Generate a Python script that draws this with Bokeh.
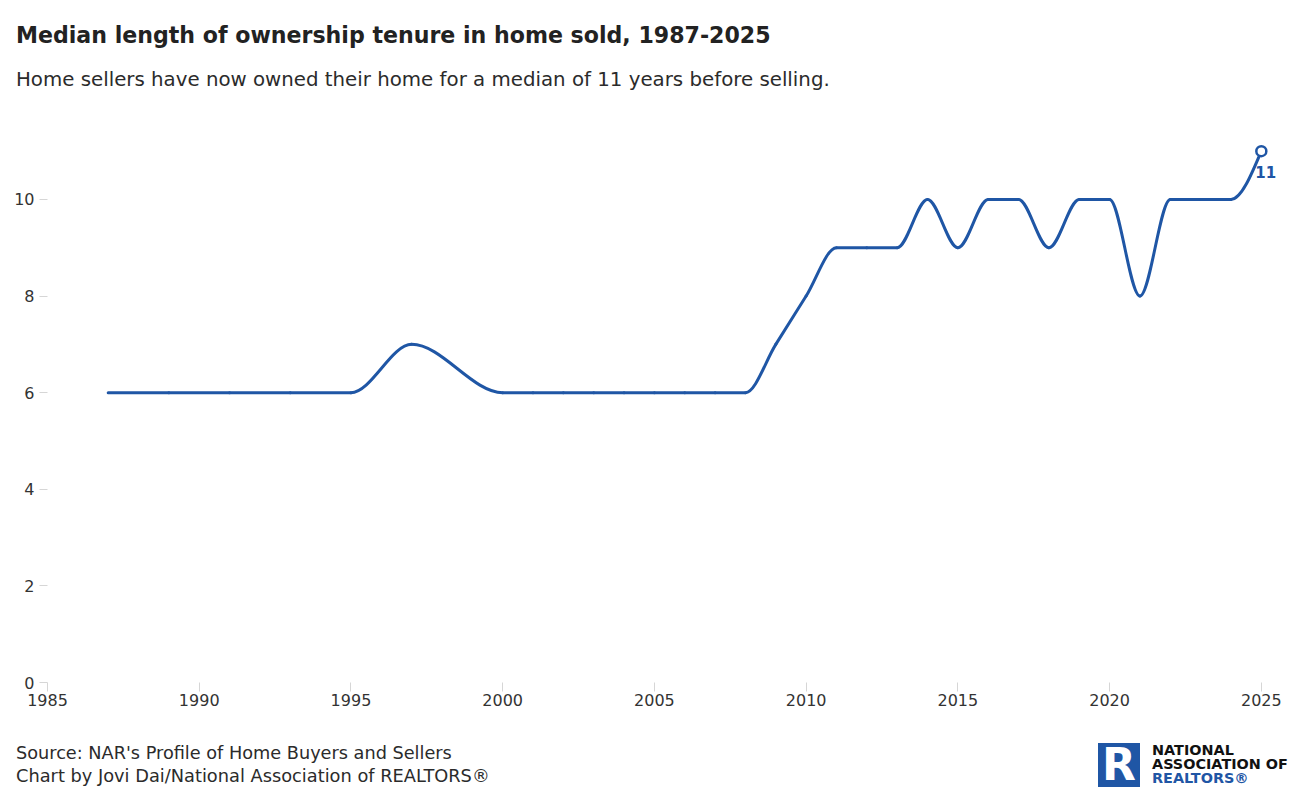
from bokeh.plotting import figure
from bokeh.layouts import column
from bokeh.models import Range1d, FixedTicker, Label, ColumnDataSource, Div
from bokeh.embed import file_html
from bokeh.resources import INLINE

# ---------------- data ----------------
years = [1987, 1989, 1991, 1993, 1995, 1997, 2000,
         2001, 2002, 2003, 2004, 2005, 2006, 2007, 2008,
         2009, 2010, 2011, 2012, 2013, 2014, 2015, 2016, 2017,
         2018, 2019, 2020, 2021, 2022, 2023, 2024, 2025]
tenure = [6, 6, 6, 6, 6, 7, 6,
          6, 6, 6, 6, 6, 6, 6, 6,
          7, 8, 9, 9, 9, 10, 9, 10, 10,
          9, 10, 10, 8, 10, 10, 10, 11]
x_ticks = [1985, 1990, 1995, 2000, 2005, 2010, 2015, 2020, 2025]
y_ticks = [0, 2, 4, 6, 8, 10]

TITLE = "Median length of ownership tenure in home sold, 1987-2025"
SUBTITLE = "Home sellers have now owned their home for a median of 11 years before selling."
SOURCE = "Source: NAR's Profile of Home Buyers and Sellers"
CREDIT = "Chart by Jovi Dai/National Association of REALTORS\u00ae"
LOGO_LINES = ["NATIONAL", "ASSOCIATION OF", "REALTORS\u00ae"]

FONT = "DejaVu Sans"
BLUE = "#1f56a5"
TEXT = "#2b2b2b"

# ---------------- geometry (page pixels) ----------------
X0, X1 = 1985, 2025.5
Y0, Y1 = 0, 11.51
FL, FR, FW, FH = 47, 16, 1229, 556
W = FL + FW + FR
HEAD_H, TOP_B, BOT_B, FOOT_H = 100, 26, 40, 68


# ---------------- monotone-x cubic (d3.curveMonotoneX) ----------------
def sign(v):
    return (v > 0) - (v < 0)


def tangents(xs, ys):
    n = len(xs)
    t = [0.0] * n
    for i in range(1, n - 1):
        h0 = xs[i] - xs[i - 1]
        h1 = xs[i + 1] - xs[i]
        s0 = (ys[i] - ys[i - 1]) / h0
        s1 = (ys[i + 1] - ys[i]) / h1
        p_ = (s0 * h1 + s1 * h0) / (h0 + h1)
        t[i] = (sign(s0) + sign(s1)) * min(abs(s0), abs(s1), 0.5 * abs(p_))
    h = xs[1] - xs[0]
    t[0] = (3 * (ys[1] - ys[0]) / h - t[1]) / 2
    h = xs[-1] - xs[-2]
    t[-1] = (3 * (ys[-1] - ys[-2]) / h - t[-2]) / 2
    return t


tg = tangents(years, tenure)
seg = dict(x0=[], y0=[], x1=[], y1=[], cx0=[], cy0=[], cx1=[], cy1=[])
for i in range(len(years) - 1):
    xa, ya, xb, yb = years[i], tenure[i], years[i + 1], tenure[i + 1]
    d = (xb - xa) / 3
    seg["x0"].append(xa); seg["y0"].append(ya)
    seg["x1"].append(xb); seg["y1"].append(yb)
    seg["cx0"].append(xa + d); seg["cy0"].append(ya + d * tg[i])
    seg["cx1"].append(xb - d); seg["cy1"].append(yb - d * tg[i + 1])
src = ColumnDataSource(seg)

# ---------------- chart ----------------
p = figure(frame_width=FW, frame_height=FH, x_range=Range1d(X0, X1),
           y_range=Range1d(Y0, Y1), output_backend="svg", toolbar_location=None,
           min_border_left=FL, min_border_right=FR, min_border_top=TOP_B,
           min_border_bottom=BOT_B, margin=0)
p.outline_line_color = None
p.grid.visible = False
p.xaxis.ticker = FixedTicker(ticks=x_ticks)
p.yaxis.ticker = FixedTicker(ticks=y_ticks)
for ax in (p.xaxis[0], p.yaxis[0]):
    ax.axis_line_color = None
    ax.major_tick_line_color = "#d6d6d6"
    ax.major_tick_line_width = 1
    ax.major_tick_in = 0
    ax.minor_tick_line_color = None
    ax.major_label_text_font = FONT
    ax.major_label_text_font_size = "16px"
    ax.major_label_text_color = "#333333"
p.xaxis.major_tick_out = 9
p.yaxis.major_tick_out = 8
p.xaxis.major_label_standoff = 2
p.yaxis.major_label_standoff = 5

p.bezier(x0="x0", y0="y0", x1="x1", y1="y1", cx0="cx0", cy0="cy0", cx1="cx1", cy1="cy1",
         source=src, line_color=BLUE, line_width=3, line_cap="round")
p.scatter(x=[years[-1]], y=[tenure[-1]], size=10, fill_color="white",
          line_color=BLUE, line_width=2.5)
p.add_layout(Label(x=years[-1], y=tenure[-1], text=str(tenure[-1]), x_offset=-6, y_offset=-15,
                   text_font=FONT, text_font_style="bold", text_font_size="15px",
                   text_color=BLUE, text_align="left", text_baseline="top"))


# ---------------- header & footer (HTML) ----------------
def span(text, left, top, size, color=TEXT, weight="normal"):
    return (f'<div style="position:absolute;left:{left}px;top:{top}px;white-space:nowrap;'
            f"font-family:'{FONT}';font-size:{size}px;line-height:1;font-weight:{weight};"
            f'color:{color};">{text}</div>')


head_html = (f'<div style="position:relative;width:{W}px;height:{HEAD_H}px;">'
             + span(TITLE, 16, 24, 22.1, "#222222", "bold")
             + span(SUBTITLE, 16, 70, 19.8)
             + '</div>')

logo_box = ('<div style="position:absolute;left:1098px;top:21px;width:42px;height:44px;'
            f'background:{BLUE};color:white;font-family:\'{FONT}\';font-weight:bold;'
            'font-size:44px;line-height:44px;text-align:center;">R</div>')
foot_html = (f'<div style="position:relative;width:{W}px;height:{FOOT_H}px;">'
             + span(SOURCE, 16, 23, 17.7)
             + span(CREDIT, 16, 45, 17.8)
             + logo_box
             + span(LOGO_LINES[0], 1152, 21, 14.4, "#111111", "bold")
             + span(LOGO_LINES[1], 1152, 35, 14.4, "#111111", "bold")
             + span(LOGO_LINES[2], 1152, 49, 14.4, BLUE, "bold")
             + '</div>')

head = Div(text=head_html, width=W, height=HEAD_H, margin=0)
foot = Div(text=foot_html, width=W, height=FOOT_H, margin=0)

layout = column(head, p, foot, spacing=0)
open("out.html", "w").write(file_html(layout, INLINE))
